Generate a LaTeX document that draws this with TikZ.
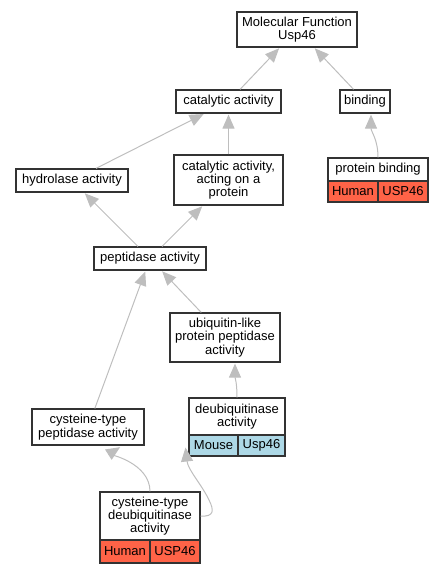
\documentclass[tikz,border=0pt]{standalone}
\usepackage{fontspec}
\setmainfont{Liberation Sans}
\usetikzlibrary{arrows.meta,calc}
\definecolor{boxc}{HTML}{333333}
\definecolor{edgec}{HTML}{BEBEBE}
\definecolor{human}{HTML}{FF6347}
\definecolor{mouse}{HTML}{ADD8E6}
\begin{document}
\begin{tikzpicture}[x=1pt,y=-1pt,
  box/.style={draw=boxc, line width=1.2pt, fill=white, align=center, inner sep=0pt,
    font=\fontsize{13}{13.3}\selectfont},
  hum/.style={box, fill=human},
  mou/.style={box, fill=mouse},
  conn/.style={draw=edgec, line width=1pt, -{Triangle[length=14pt,width=12pt]}, shorten >=1pt}]
\useasboundingbox (0,0) rectangle (443,573);
% nodes
\node[box, minimum width=120pt, minimum height=35pt] (mf) at (297,29.5) {Molecular Function\\Usp46};
\node[box, minimum width=105pt, minimum height=23pt] (cat) at (228.5,101.5) {catalytic activity};
\node[box, minimum width=50pt, minimum height=23pt] (bind) at (365,101.5) {binding};
\node[box, minimum width=100pt, minimum height=23pt] (pb) at (378,169.5) {protein binding};
\node[hum, minimum width=50pt, minimum height=21pt] (pbh) at (353,191.5) {Human};
\node[hum, minimum width=50pt, minimum height=21pt] (pbu) at (403,191.5) {USP46};
\node[box, minimum width=112pt, minimum height=23pt] (hyd) at (72,180.5) {hydrolase activity};
\node[box, minimum width=109pt, minimum height=50pt] (cap) at (228.5,180) {catalytic activity,\\acting on a\\protein};
\node[box, minimum width=112pt, minimum height=23pt] (pep) at (150,258.5) {peptidase activity};
\node[box, minimum width=110pt, minimum height=49pt] (ubl) at (225,337.5) {ubiquitin-like\\protein peptidase\\activity};
\node[box, minimum width=96pt, minimum height=37pt] (deub) at (237,416.5) {deubiquitinase\\activity};
\node[mou, minimum width=49pt, minimum height=21pt] (deubm) at (213.5,445.5) {Mouse};
\node[mou, minimum width=47pt, minimum height=21pt] (deubu) at (261.5,445.5) {Usp46};
\node[box, minimum width=112pt, minimum height=36pt] (ctp) at (88,427) {cysteine-type\\peptidase activity};
\node[box, minimum width=100pt, minimum height=48pt] (ctd) at (150,516) {cysteine-type\\deubiquitinase\\activity};
\node[hum, minimum width=50pt, minimum height=23pt] (ctdh) at (125,551.5) {Human};
\node[hum, minimum width=50pt, minimum height=23pt] (ctdu) at (175,551.5) {USP46};
% helper coordinates
\coordinate (loopa) at (209,500);
\coordinate (dtip) at ($(deubm.west)+(-3,1)$);
% connectors
\draw[conn] (cat) -- (mf);
\draw[conn] (bind) -- (mf);
\draw[conn] (hyd) -- (cat);
\draw[conn] (cap) -- (cat);
\draw[conn] (pb.north) .. controls ($(pb.north)+(0,-18)$) and ($(bind.south)+(6,18)$) .. ($(bind.south)+(6,0)$);
\draw[conn] (pep) -- (hyd);
\draw[conn] (pep) -- (cap);
\draw[conn] (ctp) -- (pep);
\draw[conn] (ubl) -- (pep);
\draw[conn] (deub.north) .. controls ($(deub.north)+(0,-15)$) and ($(ubl.south)+(10,15)$) .. ($(ubl.south)+(10,0)$);
\draw[conn] (ctd.north) .. controls ($(ctd.north)+(0,-28)$) and ($(ctp.south)+(22,8)$) .. ($(ctp.south)+(33,1)$);
\draw[conn] (ctd.east) .. controls ($(ctd.east)+(14,1)$) and (214,510) .. (loopa) .. controls (202,485) and (188,470) .. (dtip);
\end{tikzpicture}
\end{document}
